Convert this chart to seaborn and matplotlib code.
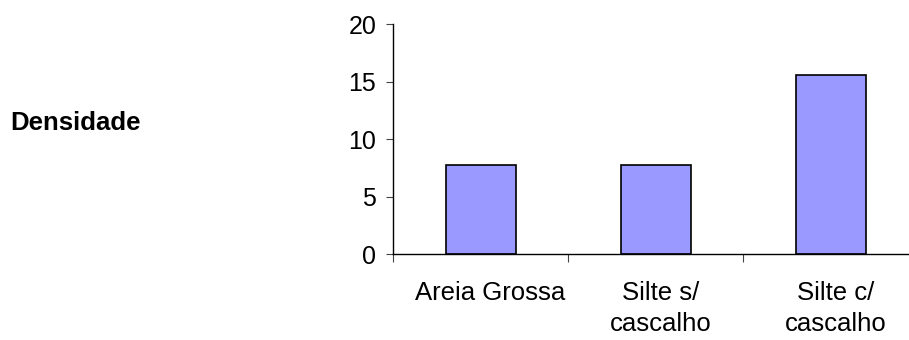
import matplotlib
matplotlib.use("Agg")
import matplotlib.pyplot as plt
import matplotlib.transforms as mtransforms
import seaborn as sns
import pandas as pd

categories = ["Areia Grossa", "Silte s/\ncascalho", "Silte c/\ncascalho"]
densidade = [7.8, 7.8, 15.6]
y_ticks = [0, 5, 10, 15, 20]
title_text = "Densidade"

sns.set_style("white")
plt.rcParams["font.family"] = ["Liberation Sans", "DejaVu Sans"]
plt.rcParams["text.color"] = "black"
plt.rcParams["xtick.color"] = "black"
plt.rcParams["ytick.color"] = "black"

W, H = 909, 340
fig = plt.figure(figsize=(W / 100, H / 100), dpi=100)
ax = fig.add_axes([393 / W, (H - 254.3) / H, 525 / W, 230 / H])

df = pd.DataFrame({"categoria": categories, "densidade": densidade})
sns.barplot(data=df, x="categoria", y="densidade", color="#9999FF",
            saturation=1, width=0.4, edgecolor="black", linewidth=1.2, ax=ax)

ax.set_xlim(-0.5, len(categories) - 0.5)
ax.set_ylim(0, 20)
ax.set_yticks(y_ticks)
ax.set_xlabel("")
ax.set_ylabel("")

for side in ("top", "right"):
    ax.spines[side].set_visible(False)
for side in ("left", "bottom"):
    ax.spines[side].set_color("black")
    ax.spines[side].set_linewidth(1.0)

ax.tick_params(axis="y", which="major", direction="out", length=5, width=0.8,
               color="#444444", labelcolor="black", pad=7, labelsize=18, left=True)
# category separators as minor ticks, labels on majors without tick marks
ax.set_xticks([i - 0.5 for i in range(len(categories) + 1)], minor=True)
ax.tick_params(axis="x", which="minor", direction="out", length=6, width=0.8,
               color="#444444", bottom=True)
ax.tick_params(axis="x", which="major", length=0, pad=19, labelsize=18.5,
               labelcolor="black")
for lbl in ax.get_xticklabels():
    dx = 0.10 if "\n" not in lbl.get_text() else 0.05
    lbl.set_linespacing(1.4)
    lbl.set_transform(lbl.get_transform()
                      + mtransforms.ScaledTranslation(dx, 0, fig.dpi_scale_trans))

fig.text(10 / W, (H - 123) / H, title_text, fontsize=18.5, fontweight="bold",
         color="black", ha="left", va="center")

fig.savefig("out.png", dpi=100)
